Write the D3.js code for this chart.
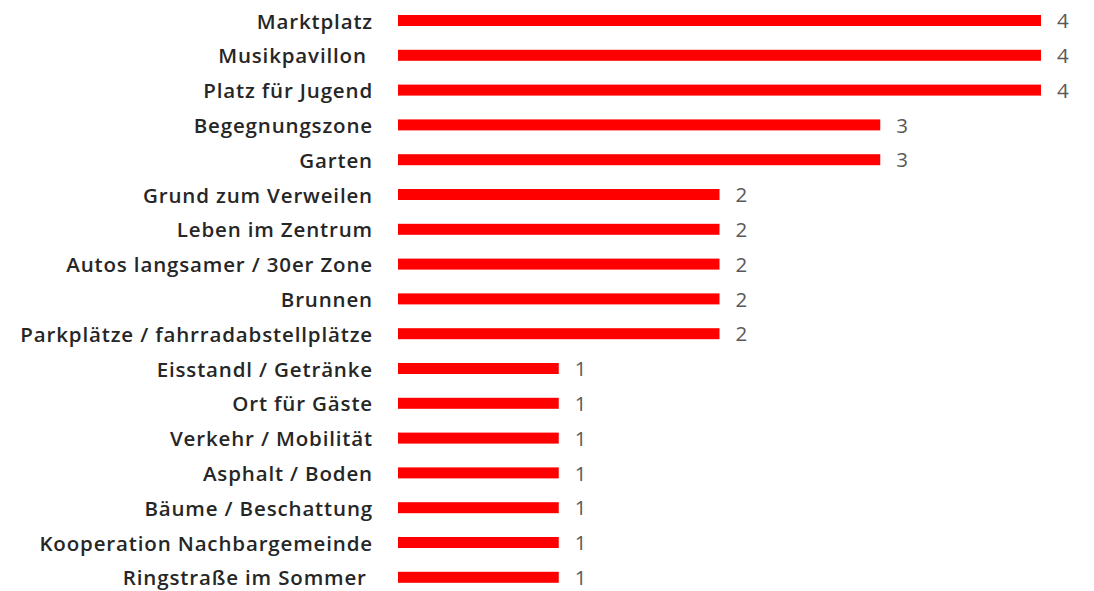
<!DOCTYPE html>
<html>
<head>
<meta charset="utf-8">
<script src="https://cdn.jsdelivr.net/npm/d3@7"></script>
<style>
  body { margin: 0; background: #fff; }
  svg { display: block; }
  text { white-space: pre; }
</style>
</head>
<body>
<div id="chart"></div>
<script>
// data (trailing spaces are in the source labels)
var categories = ["Marktplatz", "Musikpavillon ", "Platz für Jugend", "Begegnungszone", "Garten",
  "Grund zum Verweilen", "Leben im Zentrum", "Autos langsamer / 30er Zone", "Brunnen",
  "Parkplätze / fahrradabstellplätze", "Eisstandl / Getränke", "Ort für Gäste",
  "Verkehr / Mobilität", "Asphalt / Boden", "Bäume / Beschattung",
  "Kooperation Nachbargemeinde", "Ringstraße im Sommer "];
var counts = [4, 4, 4, 3, 3, 2, 2, 2, 2, 2, 1, 1, 1, 1, 1, 1, 1];

var width = 1094, height = 591;
var barH = 11;

var x = d3.scaleLinear().domain([0, 4]).range([398, 1041]);
var y = d3.scalePoint().domain(categories).range([20.5, 577.3]);

var svg = d3.select("#chart").append("svg")
  .attr("width", width)
  .attr("height", height);

var rows = svg.append("g").selectAll("g")
  .data(categories.map(function(c, i) { return {name: c, value: counts[i]}; }))
  .enter().append("g");

rows.append("rect")
  .attr("x", x(0))
  .attr("y", function(d) { return y(d.name) - barH / 2; })
  .attr("width", function(d) { return x(d.value) - x(0); })
  .attr("height", barH)
  .attr("fill", "#ff0000");

// category labels
rows.append("text")
  .attr("x", 373)
  .attr("y", function(d) { return y(d.name) + 1; })
  .attr("dy", "0.35em")
  .attr("text-anchor", "end")
  .attr("font-family", "'Open Sans', sans-serif")
  .attr("font-weight", 600)
  .attr("font-size", "20.5px")
  .attr("letter-spacing", "0.85px")
  .attr("fill", "#262626")
  .text(function(d) { return d.name; });

// value labels
rows.append("text")
  .attr("x", function(d) { return x(d.value) + 16; })
  .attr("y", function(d) { return y(d.name) + 0.5; })
  .attr("dy", "0.35em")
  .attr("font-family", "'Open Sans', sans-serif")
  .attr("font-size", "20.5px")
  .attr("fill", "#595959")
  .text(function(d) { return d.value; });
</script>
</body>
</html>
